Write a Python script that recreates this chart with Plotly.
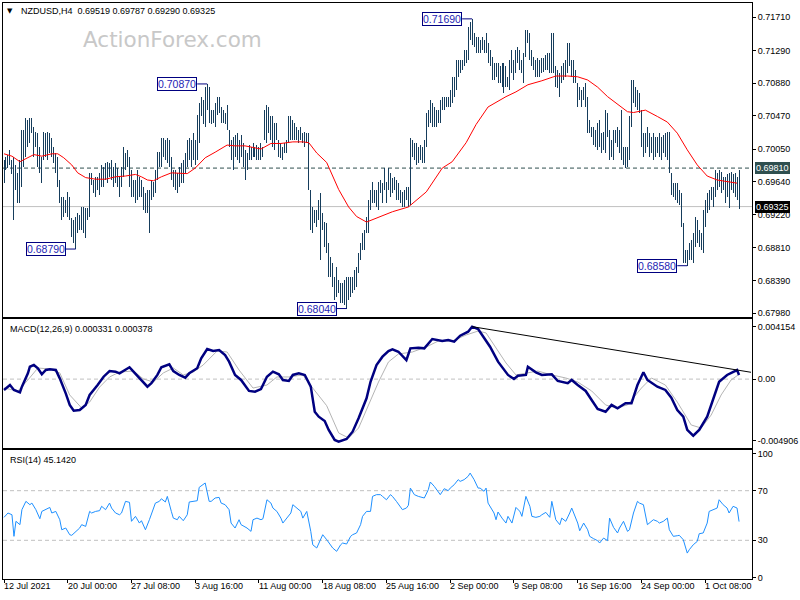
import plotly.graph_objects as go

# ---------------- DATA ----------------
# H4 bar highs / lows, price x 10 000
high_pips = [
    6991,6995,6998,7004,6991,6995,6985,6975,6991,7029,7029,7044,7042,7044,7044,7033,7027,7025,7008,6995,7027,7025,7027,7025,7019,7008,7000,6995,6966,6945,6945,6941,
    6951,6945,6918,6916,6920,6925,6922,6932,6932,6931,6931,6975,6975,6966,6970,6970,6975,6985,6983,6988,6989,6988,6991,6983,6988,6981,6970,6983,7008,7000,7004,6995,
    6979,6966,6966,6979,6970,6966,6957,6950,6954,6954,6966,6964,6979,7001,7001,7019,7019,7017,7019,7017,6995,6979,6979,6975,6983,6988,6991,7000,7017,7019,7017,7025,
    7017,7048,7063,7071,7067,7083,7087,7083,7054,7054,7063,7071,7071,7058,7054,7051,7061,7029,7017,7020,7023,7025,7017,7023,7013,7004,7000,7010,7008,7013,7008,7010,
    7008,7013,7008,7054,7061,7058,7046,7046,7038,7038,7017,7013,7008,7013,7017,7046,7046,7042,7038,7033,7029,7033,7025,7027,7025,7025,6954,6932,6928,6928,6941,6950,
    6925,6913,6912,6887,6869,6862,6844,6857,6840,6836,6836,6840,6844,6844,6844,6844,6853,6857,6874,6887,6899,6903,6920,6941,6954,6964,6954,6954,6964,6966,6962,6981,
    6964,6981,6975,6969,6970,6966,6962,6954,6951,6954,6957,6957,7019,7017,7013,7013,7008,7010,7008,7017,7051,7054,7067,7063,7058,7054,7054,7067,7071,7071,7071,7071,
    7080,7096,7096,7117,7117,7117,7117,7130,7130,7159,7165,7169,7151,7146,7146,7143,7146,7143,7151,7139,7130,7121,7114,7114,7114,7109,7114,7114,7109,7096,7117,7130,
    7117,7130,7134,7130,7117,7126,7155,7155,7151,7130,7121,7117,7120,7117,7120,7120,7124,7126,7126,7151,7151,7109,7105,7101,7109,7114,7117,7139,7139,7117,7117,7105,
    7088,7083,7080,7083,7088,7071,7042,7033,7033,7029,7038,7042,7025,7027,7054,7051,7029,7017,7029,7029,7033,7029,7054,7008,7008,7008,7046,7092,7092,7083,7080,7076,
    7054,7025,7025,7033,7025,7020,7025,7020,7020,7025,7020,7023,7025,7027,7027,6975,6962,6962,6962,6954,6950,6912,6878,6878,6887,6891,6899,6920,6916,6903,6899,6928,
    6941,6950,6954,6957,6957,6979,6975,6979,6976,6970,6970,6973,6975,6976,6973,6975,6970,6979,
]
low_pips = [
    6962,6979,6981,6985,6973,6916,6954,6937,6937,6957,6983,6995,7008,7013,7025,6995,7008,6983,6975,6962,6991,6995,6991,7000,6995,6988,6975,6957,6937,6916,6920,6925,
    6920,6916,6894,6887,6879,6899,6903,6903,6899,6893,6916,6920,6960,6950,6945,6954,6947,6957,6957,6966,6962,6970,6966,6957,6962,6957,6945,6957,6970,6979,6983,6957,
    6945,6945,6937,6941,6945,6945,6928,6925,6925,6899,6941,6945,6950,6966,6983,6983,6995,6991,6988,6983,6966,6957,6954,6950,6957,6962,6962,6975,6983,6991,6983,6991,
    6985,6991,7013,7046,7036,7033,7054,7038,7036,7038,7033,7048,7051,7038,7038,7036,7029,7008,6991,6979,6995,6991,6988,6995,6983,6966,6979,6991,6991,6995,6995,6991,
    6991,6991,6995,7017,7013,7025,7017,7008,7004,7017,6995,6994,6991,7000,7000,7013,7017,7017,7017,7017,7013,7017,7013,7008,7013,6954,6903,6899,6912,6907,6916,6865,
    6903,6882,6874,6844,6844,6831,6815,6819,6824,6811,6811,6809,6804,6815,6819,6824,6828,6831,6849,6865,6878,6878,6899,6899,6928,6937,6937,6932,6928,6950,6937,6954,
    6937,6954,6945,6950,6954,6941,6941,6937,6932,6932,6941,6932,6935,6995,6991,6985,6988,6991,6988,6988,7008,7033,7038,7033,7033,7033,7038,7038,7054,7054,7058,7058,
    7058,7063,7071,7080,7096,7101,7105,7109,7114,7117,7143,7136,7134,7126,7126,7126,7130,7126,7126,7114,7109,7092,7092,7096,7088,7088,7083,7076,7083,7083,7080,7101,
    7092,7101,7114,7105,7101,7088,7121,7139,7117,7109,7105,7096,7096,7096,7101,7102,7105,7105,7101,7101,7101,7083,7082,7071,7088,7092,7096,7101,7109,7096,7088,7088,
    7058,7067,7058,7067,7058,7025,7025,7020,7010,7008,7004,7008,7000,7004,7000,7020,6991,6995,6991,7013,7008,7000,6991,6985,6981,6983,6991,7033,7063,7058,7054,7051,
    7008,6995,7000,7008,6995,7000,6991,6995,7000,6995,6991,7000,6995,6991,6975,6947,6945,6941,6937,6935,6907,6862,6862,6858,6865,6865,6862,6882,6887,6882,6878,6874,
    6907,6925,6928,6941,6932,6945,6954,6957,6950,6954,6937,6945,6931,6954,6950,6945,6941,6929,
]

# red moving average (bar index, price x 10 000)
ma_idx = [0,4,8,11,15,19,24,27,30,34,37,41,46,51,56,61,66,69,72,75,79,84,89,92,96,101,106,112,116,121,125,129,134,139,145,150,153,157,162,165,168,173,177,182,186,190,195,203,207,212,220,225,232,237,243,252,257,263,270,277,283,288,293,298,303,308,313,316,322,328,333,338,343,348,353,358,363,368]
ma_pips = [6999,6996,6989,6993,6998,6996,6999,6999,6994,6985,6975,6969,6967,6967,6970,6971,6973,6970,6966,6965,6970,6975,6974,6974,6981,6994,7001,7010,7009,7009,7007,7005,7012,7012,7014,7014,7013,7000,6988,6970,6954,6932,6920,6913,6917,6920,6926,6932,6941,6951,6981,6989,7013,7036,7058,7071,7077,7086,7091,7097,7097,7096,7092,7083,7071,7061,7052,7051,7054,7046,7039,7025,7004,6985,6971,6966,6964,6962]

# MACD(12,26,9) main line
macd_idx = [0,3,5,8,9,12,13,15,17,19,21,23,26,28,31,33,35,38,41,43,47,50,53,56,58,63,65,68,72,74,77,79,83,85,88,91,93,97,99,102,105,108,111,113,116,119,123,126,129,132,135,138,140,143,145,148,151,154,156,158,161,163,166,168,172,175,178,182,184,187,190,193,195,198,202,204,208,211,215,220,223,226,229,233,235,238,241,244,248,251,253,256,258,262,263,267,270,275,278,283,285,288,292,295,298,302,305,308,312,315,318,321,323,328,332,335,338,341,343,346,349,353,356,359,363,366,368,369]
macd_val = [-0.00086,-0.00047,-0.00086,-0.00105,-0.00060,0.00046,0.00098,0.00112,0.00086,0.00038,0.00072,0.00078,0.00072,0.00006,-0.00113,-0.00205,-0.00251,-0.00245,-0.00205,-0.00126,-0.00047,0.00019,0.00064,0.00059,0.00046,0.00094,0.00059,0.00006,-0.00060,-0.00033,0.00033,0.00094,0.00117,0.00064,0.00033,0.00011,0.00046,0.00086,0.00165,0.00239,0.00223,0.00231,0.00191,0.00138,0.00033,-0.00007,-0.00094,-0.00100,-0.00079,0.00019,0.00059,0.00038,-0.00007,-0.00015,0.00033,0.00046,0.00033,-0.00060,-0.00259,-0.00298,-0.00332,-0.00403,-0.00483,-0.00496,-0.00475,-0.00417,-0.00311,-0.00152,-0.00021,0.00112,0.00178,0.00223,0.00236,0.00217,0.00151,0.00244,0.00249,0.00244,0.00318,0.00302,0.00310,0.00297,0.00344,0.00376,0.00416,0.00397,0.00324,0.00257,0.00138,0.00072,0.00033,0.00001,0.00027,0.00033,0.00098,0.00054,0.00033,0.00038,-0.00015,-0.00033,-0.00007,-0.00047,-0.00094,-0.00166,-0.00237,-0.00259,-0.00205,-0.00232,-0.00192,-0.00192,-0.00047,0.00054,-0.00007,-0.00060,-0.00086,-0.00147,-0.00245,-0.00298,-0.00403,-0.00449,-0.00403,-0.00298,-0.00166,-0.00021,0.00033,0.00054,0.00072,0.00033]

# MACD signal line
sig_idx = [0,7,12,17,23,28,33,39,43,48,53,58,65,70,75,80,85,90,95,100,107,112,118,125,132,137,143,150,155,162,168,173,178,183,188,193,198,205,212,218,225,232,238,242,247,252,257,263,268,275,282,288,295,302,307,313,320,325,332,338,345,350,355,360,365,369]
sig_val = [-0.00071,-0.00094,-0.00007,0.00088,0.00080,0.00049,-0.00126,-0.00229,-0.00182,-0.00063,0.00017,0.00056,0.00064,0.00001,-0.00023,0.00049,0.00088,0.00033,0.00056,0.00112,0.00223,0.00215,0.00072,-0.00071,-0.00047,0.00017,0.00017,0.00033,-0.00071,-0.00211,-0.00427,-0.00467,-0.00388,-0.00205,-0.00023,0.00136,0.00199,0.00215,0.00255,0.00302,0.00302,0.00350,0.00381,0.00366,0.00247,0.00128,0.00033,0.00049,0.00064,0.00033,0.00009,-0.00023,-0.00094,-0.00205,-0.00229,-0.00205,-0.00071,0.00009,-0.00047,-0.00182,-0.00364,-0.00388,-0.00285,-0.00126,-0.00007,0.00038]

# MACD trend line (drawn on the chart)
trend_idx = [235, 375]
trend_val = [0.00416, 0.00054]

# RSI(14)
rsi_idx = [0,2,4,5,6,8,9,11,13,14,16,18,19,21,23,24,26,28,29,31,33,34,36,38,39,41,43,44,46,48,49,51,53,54,56,58,59,61,63,64,66,68,69,71,73,74,76,78,79,81,82,84,85,87,88,90,92,93,95,97,98,101,103,104,106,108,109,111,113,114,116,118,119,122,124,125,127,129,130,132,134,135,137,139,140,142,144,145,147,149,150,152,154,155,157,159,160,162,164,165,167,169,170,172,174,175,177,179,180,182,184,185,187,189,190,192,194,195,197,
           199,200,202,203,204,206,208,210,211,213,214,216,218,219,221,223,224,226,228,229,231,233,234,236,238,239,241,242,243,244,246,247,248,250,252,253,255,257,259,260,262,264,265,267,269,270,272,274,275,277,279,280,282,284,285,286,288,289,291,293,294,296,298,299,301,303,304,306,308,309,311,313,314,316,318,319,321,323,324,326,328,329,331,333,334,336,338,339,341,343,344,346,348,349,351,353,354,356,358,359,361,363,364,366,368,369]
rsi_val = [48.5,52.0,50.6,33.2,45.3,42.6,54.7,61.4,58.7,60.0,54.7,47.4,53.3,54.7,56.5,52.0,53.3,46.6,38.5,39.9,34.5,34.0,37.2,39.9,42.6,41.2,53.3,52.0,53.3,53.9,57.4,54.7,60.0,56.0,52.0,50.6,52.0,61.4,60.6,45.3,49.3,43.9,45.8,38.5,46.6,50.6,60.0,61.4,63.5,60.9,65.4,53.3,47.9,46.6,49.3,45.8,50.6,60.9,61.4,61.9,72.7,76.2,61.4,61.4,64.1,64.6,60.0,58.7,54.7,43.9,39.9,46.6,42.6,39.9,37.2,46.6,47.9,46.6,47.4,62.7,60.0,56.0,53.3,47.9,43.9,47.9,52.0,58.7,56.0,53.3,47.9,53.3,37.2,26.4,23.8,30.5,34.5,30.5,26.4,23.8,21.1,26.4,27.8,27.0,33.2,34.5,35.9,42.6,49.3,53.3,53.3,65.4,66.8,66.8,65.4,62.7,66.8,65.4,61.4,
           56.5,54.7,56.0,58.2,72.1,66.8,65.4,64.6,64.1,70.8,77.0,73.5,69.5,66.8,71.6,70.0,72.1,74.8,78.9,77.5,78.9,81.6,84.2,78.9,72.1,72.1,69.5,72.1,60.0,57.4,52.0,46.6,52.8,47.9,43.9,49.3,43.9,56.5,53.3,49.3,65.4,57.4,49.3,48.5,49.3,50.6,52.5,48.5,61.4,46.6,42.6,47.9,45.3,52.0,56.0,52.0,43.9,37.7,43.9,38.5,33.2,31.3,29.7,27.8,31.8,29.7,47.9,40.4,35.9,39.9,45.3,37.2,38.5,52.0,61.4,60.0,58.7,42.6,43.9,46.6,45.3,43.9,45.3,47.9,38.5,33.2,33.7,34.0,30.5,19.7,22.4,26.4,29.1,35.3,35.9,43.9,53.3,54.7,56.0,62.7,58.7,56.0,52.0,57.4,56.0,45.1]

# labelled swing points
swing_idx = [36, 102, 172, 235, 343]
swing_price = [0.68790, 0.70870, 0.68040, 0.71690, 0.68580]

# horizontal levels
level_line = 0.69810
last_close = 0.69325

# axis ticks
price_ticks = [0.71710, 0.71290, 0.70880, 0.70470, 0.70050, 0.69640, 0.69220, 0.68810, 0.68390, 0.67980]
macd_ticks = [0.004154, 0.0, -0.004906]
macd_tick_text = ["0.004154", "0.00", "-0.004906"]
rsi_ticks = [0, 30, 70, 100]
date_pos = [0, 32, 64, 96, 128, 160, 192, 224, 256, 288, 320, 352]
date_labels = ["12 Jul 2021", "20 Jul 00:00", "27 Jul 08:00", "3 Aug 16:00", "11 Aug 00:00",
               "18 Aug 08:00", "25 Aug 16:00", "2 Sep 00:00", "9 Sep 08:00", "16 Sep 16:00",
               "24 Sep 00:00", "1 Oct 08:00"]

assert len(high_pips) == len(low_pips)
assert len(ma_idx) == len(ma_pips)
assert len(macd_idx) == len(macd_val)
assert len(sig_idx) == len(sig_val)
assert len(rsi_idx) == len(rsi_val)

# ---------------- FIGURE ----------------
W, H = 800, 600
ML, MR, MT, MB = 2, 46, 3, 21
PW, PH = W - ML - MR, H - MT - MB


def px(x):
    return (x - ML) / PW


def py(y):
    return (H - MB - y) / PH


FONT = "Liberation Sans"
BAR = "#163d5c"

high = [v / 10000 for v in high_pips]
low = [v / 10000 for v in low_pips]
bx, by = [], []
for i, (h, l) in enumerate(zip(high, low)):
    bx += [i, i, None]
    by += [l, h, None]

fig = go.Figure()
fig.add_trace(go.Scatter(x=bx, y=by, mode="lines", line=dict(color=BAR, width=1),
                         xaxis="x", yaxis="y", hoverinfo="skip"))
fig.add_trace(go.Scatter(x=ma_idx, y=[v / 10000 for v in ma_pips], mode="lines",
                         line=dict(color="#ff0000", width=1), xaxis="x", yaxis="y"))
# swing-point connectors
for i, p in zip(swing_idx, swing_price):
    fig.add_trace(go.Scatter(x=[i - 5, i], y=[p, p], mode="lines",
                             line=dict(color="#000080", width=1), xaxis="x", yaxis="y"))

fig.add_trace(go.Scatter(x=sig_idx, y=sig_val, mode="lines",
                         line=dict(color="#b4b4b4", width=1), xaxis="x2", yaxis="y2"))
fig.add_trace(go.Scatter(x=macd_idx, y=macd_val, mode="lines",
                         line=dict(color="#000080", width=2.5), xaxis="x2", yaxis="y2"))
fig.add_trace(go.Scatter(x=trend_idx, y=trend_val, mode="lines",
                         line=dict(color="#000000", width=1), xaxis="x2", yaxis="y2"))

fig.add_trace(go.Scatter(x=rsi_idx, y=rsi_val, mode="lines",
                         line=dict(color="#1e90ff", width=1), xaxis="x3", yaxis="y3"))

XR = [-0.5, (PW / 2) - 0.5]
axis_common = dict(showline=True, mirror=True, linecolor="#000000", linewidth=1,
                   showgrid=False, zeroline=False)
tickfont = dict(family=FONT, size=9, color="#000000")

fig.update_layout(
    width=W, height=H,
    margin=dict(l=ML, r=MR, t=MT, b=MB),
    paper_bgcolor="white", plot_bgcolor="white",
    showlegend=False, hovermode=False,
    xaxis=dict(domain=[0, 1], range=XR, anchor="y", showticklabels=False, ticks="", **axis_common),
    xaxis2=dict(domain=[0, 1], range=XR, anchor="y2", matches="x", showticklabels=False, ticks="", **axis_common),
    xaxis3=dict(domain=[0, 1], range=XR, anchor="y3", matches="x", showticklabels=False,
                ticks="outside", ticklen=3, tickcolor="#000000", tickvals=date_pos, **axis_common),
    yaxis=dict(domain=[py(316.5), 1], range=[0.67940, 0.71890], side="right", anchor="x",
               tickvals=price_ticks, ticktext=[f"{v:.5f}" for v in price_ticks],
               ticks="outside", ticklen=3, tickcolor="#000000", tickfont=tickfont, **axis_common),
    yaxis2=dict(domain=[py(448), py(318.5)], range=[-0.005464, 0.004806], side="right", anchor="x2",
                tickvals=macd_ticks, ticktext=macd_tick_text,
                ticks="outside", ticklen=3, tickcolor="#000000", tickfont=tickfont, **axis_common),
    yaxis3=dict(domain=[0, py(450)], range=[-1.2, 102.8], side="right", anchor="x3",
                tickvals=rsi_ticks, ticktext=[str(v) for v in rsi_ticks],
                ticks="outside", ticklen=3, tickcolor="#000000", tickfont=tickfont, **axis_common),
)

shapes = [
    dict(type="line", xref="paper", x0=0, x1=1, yref="y", y0=last_close, y1=last_close,
         line=dict(color="#c0c0c0", width=1), layer="below"),
    dict(type="line", xref="paper", x0=0, x1=1, yref="y", y0=level_line, y1=level_line,
         line=dict(color="#2f4f4f", width=1, dash="4px,3px"), layer="below"),
    dict(type="line", xref="paper", x0=0, x1=1, yref="y2", y0=0, y1=0,
         line=dict(color="#c0c0c0", width=1, dash="4px,3px"), layer="below"),
    dict(type="line", xref="paper", x0=0, x1=1, yref="y3", y0=30, y1=30,
         line=dict(color="#c0c0c0", width=1, dash="4px,3px"), layer="below"),
    dict(type="line", xref="paper", x0=0, x1=1, yref="y3", y0=70, y1=70,
         line=dict(color="#c0c0c0", width=1, dash="4px,3px"), layer="below"),
]
fig.update_layout(shapes=shapes)

ann = []
# watermark
ann.append(dict(text="ActionForex.com", xref="paper", yref="paper", x=px(172), y=py(39),
                xanchor="center", yanchor="middle", showarrow=False,
                font=dict(family="DejaVu Sans", size=21.5, color="#c8c8c8")))
# header
ann.append(dict(text="▼", xref="paper", yref="paper", x=px(4), y=py(11),
                xanchor="left", yanchor="middle", showarrow=False,
                font=dict(family="DejaVu Sans", size=7, color="#000000")))
ann.append(dict(text="NZDUSD,H4\u00a0\u00a00.69519 0.69787 0.69290 0.69325", xref="paper", yref="paper",
                x=px(18), y=py(11), xanchor="left", yanchor="middle", showarrow=False,
                font=dict(family=FONT, size=9, color="#000000")))
ann.append(dict(text="MACD(12,26,9) 0.000331 0.000378", xref="paper", yref="paper",
                x=px(7), y=py(328.5), xanchor="left", yanchor="middle", showarrow=False,
                font=dict(family=FONT, size=9, color="#000000")))
ann.append(dict(text="RSI(14) 45.1420", xref="paper", yref="paper",
                x=px(7), y=py(459.5), xanchor="left", yanchor="middle", showarrow=False,
                font=dict(family=FONT, size=9, color="#000000")))
# swing labels
for i, p in zip(swing_idx, swing_price):
    ann.append(dict(text=f"{p:.5f}", xref="x", yref="y", x=i - 5, y=p,
                    xanchor="right", yanchor="middle", showarrow=False,
                    bgcolor="white", bordercolor="#000080", borderwidth=1, borderpad=0,
                    font=dict(family=FONT, size=10.5, color="#1e1eb4")))
# right-axis price boxes
ann.append(dict(text=f"{level_line:.5f}", xref="paper", yref="y", x=1, y=level_line,
                xanchor="left", yanchor="middle", xshift=3, showarrow=False,
                bgcolor="#2f4f4f", borderwidth=0, borderpad=1,
                font=dict(family=FONT, size=9, color="#ffffff")))
ann.append(dict(text=f"{last_close:.5f}", xref="paper", yref="y", x=1, y=last_close,
                xanchor="left", yanchor="middle", xshift=3, showarrow=False,
                bgcolor="#000000", borderwidth=0, borderpad=1,
                font=dict(family=FONT, size=9, color="#ffffff")))
# time labels (left-aligned at tick)
for pos, lab in zip(date_pos, date_labels):
    ann.append(dict(text=lab, xref="x3", yref="paper", x=pos, y=0,
                    xanchor="left", yanchor="top", yshift=-2, showarrow=False,
                    borderwidth=0, borderpad=0,
                    font=dict(family=FONT, size=9, color="#000000")))
fig.update_layout(annotations=ann)

post = (
    "document.body.style.margin='0px';document.body.style.padding='0px';"
    "var g=document.querySelector('.subplot.xy .scatterlayer .trace');"
    "if(g){g.querySelectorAll('path').forEach(function(p){p.style.shapeRendering='crispEdges';});}"
)
fig.write_html("out.html", config={"displayModeBar": False}, post_script=post)
